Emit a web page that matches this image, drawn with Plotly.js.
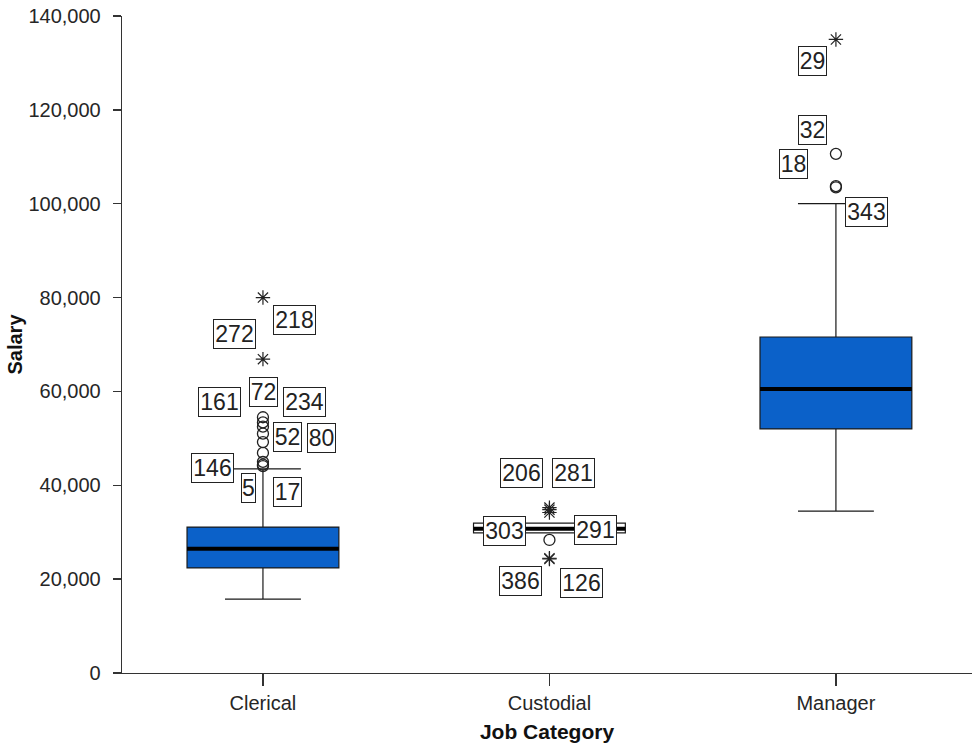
<!DOCTYPE html>
<html><head><meta charset="utf-8">
<script src="https://cdn.plot.ly/plotly-3.0.1.min.js"></script>
<style>html,body{margin:0;padding:0;background:#fff}</style>
</head><body><div id="chart" style="width:972px;height:747px"></div>
<script>
// ---- data ----
const categories = ['Clerical', 'Custodial', 'Manager'];
const q1 = [22400, 29850, 52000];
const medians = [26500, 30750, 60500];
const q3 = [31100, 31950, 71600];
const lowerWhisker = [15750, 29850, 34500];
const upperWhisker = [43500, 31950, 100000];

// outliers (circles) : category index, salary, case id
const circleCat = [0, 0, 0, 0, 0, 0, 0, 0, 0, 1, 2, 2, 2];
const circleVal = [54500, 53400, 52500, 51000, 49200, 46900, 45000, 44400, 44100, 28350, 110625, 103750, 103500];
const circleId  = ['72', '161', '234', '52', '80', '', '146', '5', '17', '291', '32', '18', '343'];

// extreme values (stars)
const starCat = [0, 0, 1, 1, 1, 1, 1, 2];
const starVal = [80000, 66875, 35250, 34800, 34200, 24300, 24450, 135000];
const starId  = ['218', '272', '206', '281', '303', '386', '126', '29'];

// ---- styling / label placement (pixels) ----
const labelOffset = {
  '72': [1, -25], '161': [-43, -20], '234': [42, -25], '52': [25, 3], '80': [59, -4],
  '146': [-50, 6], '5': [-14, 23], '17': [25, 26], '291': [46, -10],
  '32': [-23, -24], '18': [-42, -22], '343': [31, 25],
  '218': [32, 22], '272': [-28, -25], '206': [-28, -35], '281': [24, -37],
  '303': [-45, 18], '386': [-29, 22], '126': [32, 25], '29': [-23, 22]
};
const boxFill = ['#0b61c9', '#ffffff', '#0b61c9'];
const boxWidth = 0.53;
const xs = categories.map((c, i) => i);

const traces = [];
xs.forEach(i => {
  traces.push({
    type: 'box',
    x: [i],
    q1: [q1[i]], median: [medians[i]], q3: [q3[i]],
    lowerfence: [lowerWhisker[i]], upperfence: [upperWhisker[i]],
    width: boxWidth,
    whiskerwidth: 0.5,
    boxpoints: false,
    fillcolor: boxFill[i],
    line: {color: '#1a1a1a', width: 1.2},
    hoverinfo: 'skip',
    showlegend: false
  });
});
// thick median lines
const mx = [], my = [];
medians.forEach((m, i) => { mx.push(i - boxWidth / 2, i + boxWidth / 2, null); my.push(m, m, null); });
traces.push({type: 'scatter', mode: 'lines', x: mx, y: my, line: {color: '#000', width: 4}, showlegend: false, hoverinfo: 'skip'});
traces.push({
  type: 'scatter', mode: 'markers', x: circleCat, y: circleVal,
  marker: {symbol: 'circle-open', size: 11, color: '#222', line: {width: 1.3, color: '#222'}},
  showlegend: false, hoverinfo: 'skip'
});
traces.push({
  type: 'scatter', mode: 'markers', x: starCat, y: starVal,
  marker: {symbol: 'asterisk-open', size: 12, color: '#222', line: {width: 1.2, color: '#222'}},
  showlegend: false, hoverinfo: 'skip'
});

const annotations = [];
function addLabels(cats, vals, ids) {
  ids.forEach((id, k) => {
    if (!id) return;
    const off = labelOffset[id] || [0, 0];
    annotations.push({
      x: cats[k], y: vals[k], xref: 'x', yref: 'y',
      text: id, showarrow: false,
      xanchor: 'center', yanchor: 'middle',
      xshift: off[0], yshift: -off[1],
      font: {family: 'Liberation Sans, Arial, sans-serif', size: 23, color: '#222'},
      bgcolor: '#fff', bordercolor: '#222', borderwidth: 1, borderpad: 0,
      width: 14 * id.length - 1, height: 28
    });
  });
}
addLabels(circleCat, circleVal, circleId);
addLabels(starCat, starVal, starId);

const layout = {
  width: 972, height: 747,
  margin: {l: 122, r: 0, t: 16, b: 74},
  paper_bgcolor: '#fff', plot_bgcolor: '#fff',
  font: {family: 'Liberation Sans, Arial, sans-serif', color: '#262626'},
  xaxis: {
    range: [-0.492, 2.475],
    tickvals: xs, ticktext: categories,
    ticks: 'outside', ticklen: 12, tickwidth: 1.3, tickcolor: '#333',
    showline: true, linecolor: '#333', linewidth: 1.3,
    showgrid: false, zeroline: false,
    tickfont: {size: 20, color: '#262626'},
    title: {text: '<b>Job Category</b>', font: {size: 21, color: '#111'}, standoff: 11}
  },
  yaxis: {
    range: [0, 140000],
    tickvals: [0, 20000, 40000, 60000, 80000, 100000, 120000, 140000],
    tickformat: ',d',
    ticks: 'outside', ticklen: 8, tickwidth: 1.3, tickcolor: '#333',
    ticklabelstandoff: 8,
    showline: true, linecolor: '#333', linewidth: 1.3,
    showgrid: false, zeroline: false,
    tickfont: {size: 20, color: '#262626'},
    title: {text: '<b>Salary</b>', font: {size: 20, color: '#111'}, standoff: 0}
  },
  annotations: annotations
};
Plotly.newPlot('chart', traces, layout, {staticPlot: true, displayModeBar: false});
</script></body></html>
